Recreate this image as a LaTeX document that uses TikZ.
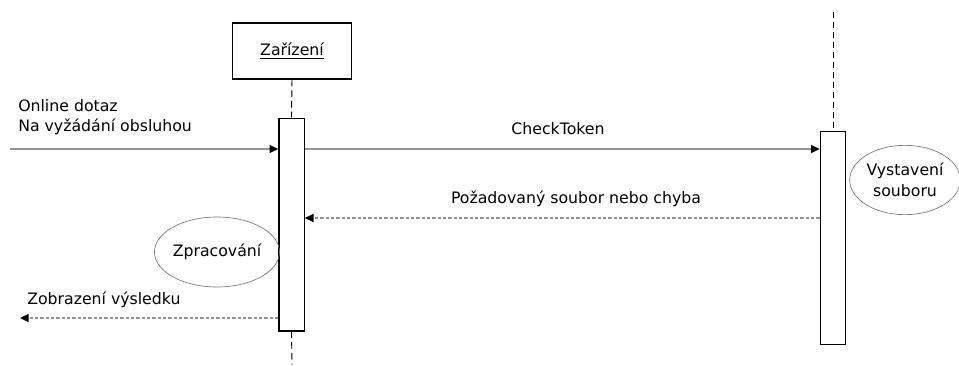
\documentclass[tikz,border=0pt]{standalone}
\usepackage{fontspec}
\setmainfont{DejaVu Sans}
\usepackage{xcolor}
\usetikzlibrary{arrows.meta,shapes.geometric}
\definecolor{msggray}{RGB}{150,150,150}
\definecolor{ovalgray}{RGB}{120,120,120}

\begin{document}
\begin{tikzpicture}[
    x=0.75pt, y=-0.75pt,
    every node/.style={font=\fontsize{11.8}{15.5}\selectfont},
    object/.style={rectangle,draw=black,line width=0.9pt,minimum width=89pt,minimum height=42pt,inner sep=0pt},
    activation/.style={rectangle,draw=black,fill=white,line width=1pt,minimum width=19pt,minimum height=159.5pt,inner sep=0pt},
    activity/.style={ellipse,draw=ovalgray,line width=0.5pt,inner sep=0pt,align=center},
    lifeline/.style={dashed,line width=0.7pt},
    call/.style={-{Triangle[length=6.5pt,width=6pt,color=black]},draw=msggray,line width=0.8pt},
    reply/.style={-{Triangle[length=6.5pt,width=6pt,color=black]},draw=msggray,line width=0.8pt,dash pattern=on 2.5pt off 1.5pt}
  ]
    \useasboundingbox (0,0) rectangle (959,365);

    % objects and their lifelines
    \node[object] (device) at (292,51) {\underline{Zařízení}};
    \node[activation] (bar1) at (291.5,224.5) {};
    \node[activation] (bar2) at (833,238) {};
    \coordinate (devend) at (292,365);
    \coordinate (srvtop) at (833,12);

    \draw[lifeline,dash pattern=on 5pt off 3pt] (device.south) -- (bar1.north);
    \draw[lifeline,dash pattern=on 5pt off 3pt] (bar1.south) -- (devend);
    \draw[lifeline,dash pattern=on 4.5pt off 3pt] (srvtop) -- (bar2.north);

    % activities
    \node[activity,minimum width=90pt,minimum height=52.5pt] (process) at (217,252) {Zpracování};
    \node[activity,minimum width=83pt,minimum height=52pt] (issue) at (905,180) {Vystavení\\souboru};

    % messages
    \coordinate (src) at (10,149);
    \coordinate (ret) at (700,218);
    \coordinate (out) at (20,318);

    \draw[call] (src) -- (src -| bar1.west);
    \draw[call] (bar1.east |- src) -- (bar2.west |- src);
    \draw[reply] (bar2.west |- ret) -- (bar1.east |- ret);
    \draw[reply] (bar1.west |- out) -- (out);

    % message labels
    \node[anchor=north west,align=left,inner sep=0pt] (reqlabel) at (18,99) {Online dotaz\\Na vyžádání obsluhou};
    \node[anchor=base,inner sep=0pt] (checklabel) at (558,134) {CheckToken};
    \node[anchor=base,inner sep=0pt] (retlabel) at (576,203) {Požadovaný soubor nebo chyba};
    \node[anchor=base west,inner sep=0pt] (outlabel) at (27,304) {Zobrazení výsledku};
\end{tikzpicture}
\end{document}
